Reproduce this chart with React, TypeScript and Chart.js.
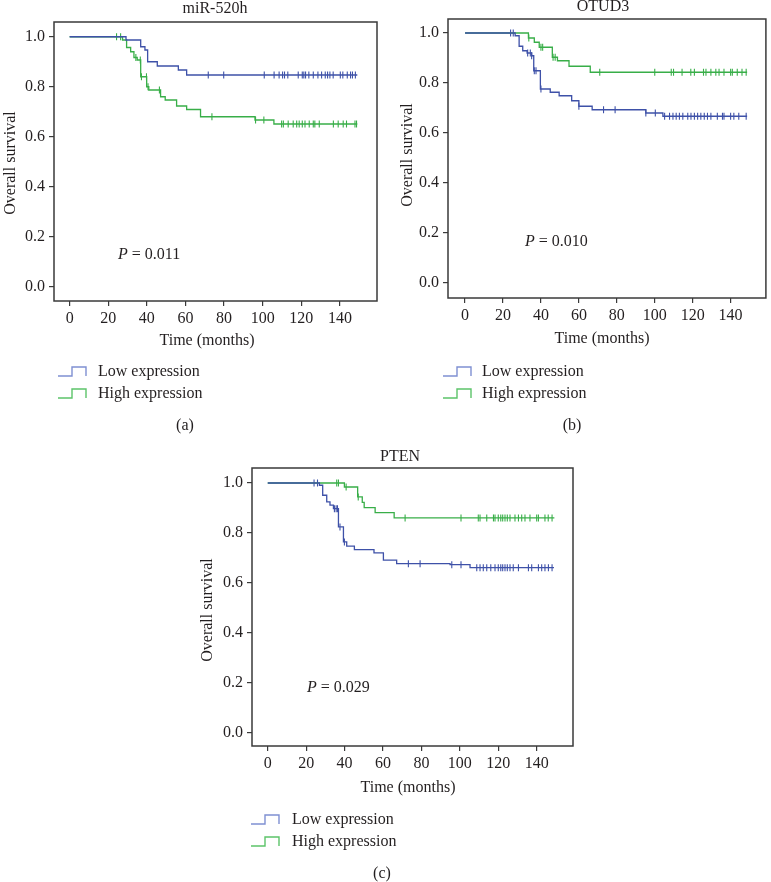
import React, { useEffect, useRef } from "react";
import { Chart, registerables } from "chart.js";

Chart.register(...registerables);

// ---------- data ----------
const xTickValues = [0, 20, 40, 60, 80, 100, 120, 140];
const yTickValues = [0, 0.2, 0.4, 0.6, 0.8, 1.0];
const seriesLabels = ["Low expression", "High expression"];

// (a) miR-520h
const mirLowTimes = [0, 29.2, 36.8, 39.0, 40.4, 45.4, 56.3, 60.6, 149];
const mirLowSurv = [1, 0.987, 0.96, 0.947, 0.9, 0.883, 0.867, 0.847, 0.847];
const mirLowCensor = [71.8, 79.8, 100.8, 105.9, 108.5, 110.3, 111.3, 113, 118.4, 120.5, 121.3, 122.2, 123.9, 126.2, 128.6, 130.5, 132.4, 133.6, 134.8, 136.5, 140.2, 141.5, 143.8, 145.5, 146.5, 148];
const mirHighTimes = [0, 27.4, 29.5, 31.6, 33.3, 35.0, 36.8, 39.9, 41.0, 47.1, 49.5, 55.4, 60.6, 67.8, 96.0, 105.8, 149];
const mirHighSurv = [1, 0.987, 0.957, 0.94, 0.917, 0.907, 0.84, 0.8, 0.787, 0.76, 0.747, 0.723, 0.709, 0.68, 0.667, 0.651, 0.651];
const mirHighCensor = [24.3, 26.4, 34.3, 36.6, 37.2, 39.8, 40.6, 46.5, 73.7, 96.3, 100.6, 109.8, 110.7, 113.2, 115.8, 117.6, 118.9, 120.5, 121.9, 124.1, 126.2, 127, 129.3, 136.6, 139.1, 141.7, 143.4, 147.8, 148.6];

// (b) OTUD3
const otuLowTimes = [0, 26.4, 28.5, 30.4, 32.7, 35.1, 36.2, 39.7, 44.9, 49.6, 56.2, 60.0, 67.0, 95.3, 104.3, 148.7];
const otuLowSurv = [1, 0.989, 0.947, 0.929, 0.92, 0.909, 0.849, 0.776, 0.763, 0.749, 0.729, 0.707, 0.693, 0.68, 0.667, 0.667];
const otuLowCensor = [24, 25.4, 33, 34.4, 35.1, 36.5, 37.4, 40, 60, 73, 79.1, 95.3, 100.3, 105.2, 107.8, 109.6, 111.3, 113, 114.8, 117.4, 119.1, 120.9, 122.6, 124.3, 126.1, 127.8, 129.6, 133, 135.7, 136.5, 140, 141.7, 144.3, 148.2];
const otuHighTimes = [0, 33.4, 36.5, 39.1, 46.0, 48.7, 54.8, 66.0, 148.7];
const otuHighSurv = [1, 0.98, 0.963, 0.943, 0.903, 0.889, 0.867, 0.843, 0.843];
const otuHighCensor = [33.6, 40, 40.9, 46.4, 47.5, 71, 100, 108.7, 109.9, 114.4, 119, 120.9, 125.7, 127, 129.6, 132.2, 133.9, 136.5, 140, 140.9, 143.5, 146, 148.2];

// (c) PTEN
const ptenLowTimes = [0, 26.9, 28.6, 30.7, 32.4, 34.2, 36.8, 39.4, 41.1, 45.1, 55.3, 60.2, 67.1, 94.9, 105.3, 149];
const ptenLowSurv = [1, 0.991, 0.951, 0.924, 0.911, 0.897, 0.824, 0.764, 0.747, 0.733, 0.72, 0.691, 0.677, 0.673, 0.661, 0.661];
const ptenLowCensor = [24.1, 25.9, 34.7, 35.6, 36.3, 37.6, 39.9, 73.2, 79.3, 95.8, 100.6, 108.8, 110.5, 112.2, 114, 116.1, 118.3, 120, 121.3, 122.3, 123.5, 124.7, 126.1, 127.8, 130.5, 135.7, 137.4, 140.9, 142.6, 144.3, 146.1, 148];
const ptenHighTimes = [0, 39.9, 46.8, 49.2, 50.2, 55.9, 65.8, 149.2];
const ptenHighSurv = [1, 0.984, 0.944, 0.922, 0.901, 0.881, 0.86, 0.86];
const ptenHighCensor = [35.9, 36.8, 40.8, 47.1, 71.5, 100.6, 109.6, 110.5, 114, 117.5, 118.3, 120, 121.3, 122.3, 123.5, 124.7, 126.1, 128.7, 130.5, 132.2, 133.9, 136.5, 140, 140.9, 144.3, 146, 148];

// ---------- styles ----------
const FONT = '"Liberation Serif", "Times New Roman", serif';
const TEXT = "#231f20";
const AXIS = "#3a3a3a";
const BLUE = "#3e51a8";
const GREEN = "#38ae48";
const BLUE_LEG = "#7f90d2";
const GREEN_LEG = "#5cc46a";

type PanelCfg = {
  key: string;
  left: number; top: number; width: number; height: number;
  area: { l: number; t: number; r: number; b: number };
  xMin: number; xMax: number; yMin: number; yMax: number;
  title: string; titleX: number; titleY: number;
  yTitleX: number; yTitleY: number;
  xTitleX: number; xTitleY: number;
  pValue: string; pX: number; pY: number;
  legX: number; legTextX: number; legY: [number, number];
  caption: string; capX: number; capY: number;
  lowT: number[]; lowS: number[]; lowC: number[];
  highT: number[]; highS: number[]; highC: number[];
};

const panels: PanelCfg[] = [
  {
    key: "a", left: 0, top: 0, width: 385, height: 440,
    area: { l: 54, t: 22, r: 377, b: 301 },
    xMin: -8.1, xMax: 159.2, yMin: -0.057, yMax: 1.059,
    title: "miR-520h", titleX: 215, titleY: 13,
    yTitleX: 15, yTitleY: 163,
    xTitleX: 207, xTitleY: 345,
    pValue: "0.011", pX: 118, pY: 259,
    legX: 58, legTextX: 98, legY: [376, 398],
    caption: "(a)", capX: 185, capY: 430,
    lowT: mirLowTimes, lowS: mirLowSurv, lowC: mirLowCensor,
    highT: mirHighTimes, highS: mirHighSurv, highC: mirHighCensor,
  },
  {
    key: "b", left: 385, top: 0, width: 386, height: 440,
    area: { l: 63, t: 19, r: 384, b: 298 },
    xMin: -9.0, xMax: 158.6, yMin: -0.06, yMax: 1.056,
    title: "OTUD3", titleX: 218, titleY: 11,
    yTitleX: 27, yTitleY: 155,
    xTitleX: 217, xTitleY: 343,
    pValue: "0.010", pX: 140, pY: 246,
    legX: 58, legTextX: 97, legY: [376, 398],
    caption: "(b)", capX: 187, capY: 430,
    lowT: otuLowTimes, lowS: otuLowSurv, lowC: otuLowCensor,
    highT: otuHighTimes, highS: otuHighSurv, highC: otuHighCensor,
  },
  {
    key: "c", left: 190, top: 440, width: 400, height: 442,
    area: { l: 62, t: 28, r: 383, b: 306 },
    xMin: -8.2, xMax: 158.9, yMin: -0.053, yMax: 1.06,
    title: "PTEN", titleX: 210, titleY: 21,
    yTitleX: 22, yTitleY: 170,
    xTitleX: 218, xTitleY: 352,
    pValue: "0.029", pX: 117, pY: 252,
    legX: 61, legTextX: 102, legY: [384, 406],
    caption: "(c)", capX: 192, capY: 438,
    lowT: ptenLowTimes, lowS: ptenLowSurv, lowC: ptenLowCensor,
    highT: ptenHighTimes, highS: ptenHighSurv, highC: ptenHighCensor,
  },
];

function survAt(times: number[], surv: number[], t: number): number {
  let s = surv[0];
  for (let i = 0; i < times.length; i++) if (times[i] <= t) s = surv[i];
  return s;
}

function makeDecor(p: PanelCfg) {
  return {
    id: "decor_" + p.key,
    afterDraw(chart: any) {
      const ctx: CanvasRenderingContext2D = chart.ctx;
      const a = chart.chartArea;
      ctx.save();
      ctx.strokeStyle = AXIS;
      ctx.lineWidth = 1.5;
      ctx.strokeRect(a.left, a.top, a.right - a.left, a.bottom - a.top);

      ctx.fillStyle = TEXT;
      ctx.font = `16px ${FONT}`;
      ctx.textBaseline = "alphabetic";
      ctx.textAlign = "center";
      ctx.fillText(p.title, p.titleX, p.titleY);
      ctx.fillText("Time (months)", p.xTitleX, p.xTitleY);
      ctx.fillText(p.caption, p.capX, p.capY);

      ctx.save();
      ctx.translate(p.yTitleX, p.yTitleY);
      ctx.rotate(-Math.PI / 2);
      ctx.fillText("Overall survival", 0, 0);
      ctx.restore();

      ctx.textAlign = "left";
      ctx.font = `italic 16px ${FONT}`;
      ctx.fillText("P", p.pX, p.pY);
      const w = ctx.measureText("P").width;
      ctx.font = `16px ${FONT}`;
      ctx.fillText(" = " + p.pValue, p.pX + w, p.pY);

      const legColors = [BLUE_LEG, GREEN_LEG];
      seriesLabels.forEach((lab, i) => {
        const by = p.legY[i];
        const x0 = p.legX;
        ctx.strokeStyle = legColors[i];
        ctx.lineWidth = 1.4;
        ctx.beginPath();
        ctx.moveTo(x0, by);
        ctx.lineTo(x0 + 14, by);
        ctx.lineTo(x0 + 14, by - 9);
        ctx.lineTo(x0 + 28, by - 9);
        ctx.lineTo(x0 + 28, by);
        ctx.stroke();
        ctx.fillStyle = TEXT;
        ctx.fillText(lab, p.legTextX, by);
      });
      ctx.restore();
    },
  };
}

function KMPanel({ p }: { p: PanelCfg }) {
  const ref = useRef<HTMLCanvasElement | null>(null);
  useEffect(() => {
    if (!ref.current) return;
    const tickFont = { family: FONT, size: 16 };
    const chart = new Chart(ref.current, {
      type: "line",
      data: {
        datasets: [
          {
            label: seriesLabels[0],
            data: p.lowT.map((t, i) => ({ x: t, y: p.lowS[i] })),
            stepped: "before",
            borderColor: BLUE,
            borderWidth: 1.3,
            pointRadius: 0,
            fill: false,
          },
          {
            label: seriesLabels[1],
            data: p.highT.map((t, i) => ({ x: t, y: p.highS[i] })),
            stepped: "before",
            borderColor: GREEN,
            borderWidth: 1.3,
            pointRadius: 0,
            fill: false,
          },
          {
            label: seriesLabels[0] + " censored",
            data: p.lowC.map((t) => ({ x: t, y: survAt(p.lowT, p.lowS, t) })),
            showLine: false,
            pointStyle: "line",
            pointRotation: 90,
            pointRadius: 3.5,
            pointBorderColor: BLUE,
            pointBorderWidth: 1.1,
            borderColor: BLUE,
          },
          {
            label: seriesLabels[1] + " censored",
            data: p.highC.map((t) => ({ x: t, y: survAt(p.highT, p.highS, t) })),
            showLine: false,
            pointStyle: "line",
            pointRotation: 90,
            pointRadius: 3.5,
            pointBorderColor: GREEN,
            pointBorderWidth: 1.1,
            borderColor: GREEN,
          },
        ] as any,
      },
      options: {
        responsive: false,
        animation: false,
        devicePixelRatio: 1,
        events: [],
        layout: {
          padding: { left: 0, top: p.area.t, right: p.width - p.area.r, bottom: 0 },
        },
        plugins: {
          legend: { display: false },
          tooltip: { enabled: false },
          title: { display: false },
        },
        scales: {
          x: {
            type: "linear",
            min: p.xMin,
            max: p.xMax,
            afterFit: (s: any) => { s.height = p.height - p.area.b; },
            afterBuildTicks: (s: any) => { s.ticks = xTickValues.map((v) => ({ value: v })); },
            ticks: {
              font: tickFont,
              color: TEXT,
              padding: 3,
              maxRotation: 0,
              autoSkip: false,
              callback: (v: any) => String(v),
            },
            grid: { display: true, drawOnChartArea: false, drawTicks: true, tickLength: 5, color: AXIS, lineWidth: 1.2 },
            border: { display: false },
          },
          y: {
            type: "linear",
            min: p.yMin,
            max: p.yMax,
            afterFit: (s: any) => { s.width = p.area.l; },
            afterBuildTicks: (s: any) => { s.ticks = yTickValues.map((v) => ({ value: v })); },
            ticks: {
              font: tickFont,
              color: TEXT,
              padding: 4,
              autoSkip: false,
              callback: (v: any) => Number(v).toFixed(1),
            },
            grid: { display: true, drawOnChartArea: false, drawTicks: true, tickLength: 5, color: AXIS, lineWidth: 1.2 },
            border: { display: false },
          },
        },
      } as any,
      plugins: [makeDecor(p)],
    });
    return () => chart.destroy();
  }, [p]);
  return (
    <canvas
      ref={ref}
      width={p.width}
      height={p.height}
      style={{ position: "absolute", left: p.left, top: p.top, width: p.width, height: p.height }}
    />
  );
}

export default function App() {
  return (
    <div style={{ position: "absolute", left: 0, top: 0, width: 771, height: 882, background: "#ffffff", overflow: "hidden" }}>
      {panels.map((p) => (
        <KMPanel key={p.key} p={p} />
      ))}
    </div>
  );
}
